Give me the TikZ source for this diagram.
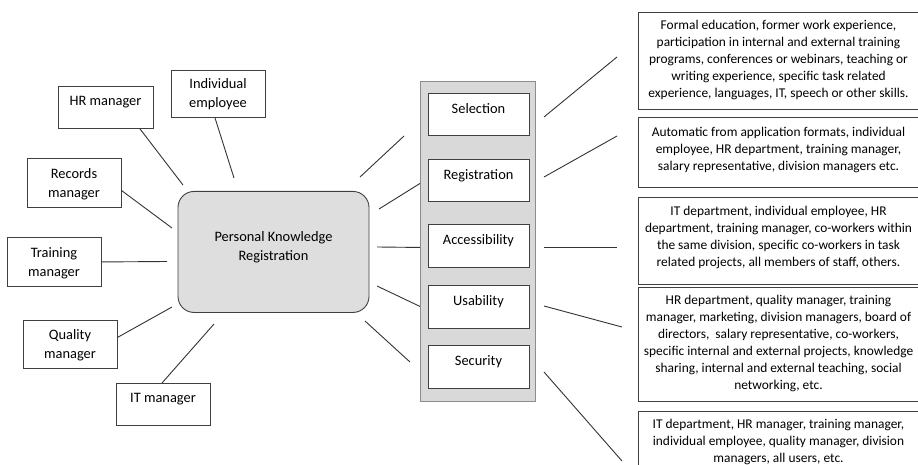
\documentclass[tikz,border=0pt]{standalone}
\usepackage{fontspec}
\setmainfont{Carlito}
\begin{document}
\begin{tikzpicture}[x=1pt, y=-1pt]

	% Styles

	\tikzset{
		box/.style={draw=black!75, line width=0.9pt, fill=white, inner xsep=0pt, inner ysep=0pt, align=center, anchor=north, font=\fontsize{14.4}{19}\selectfont},
		note/.style={box, minimum width=281pt, font=\fontsize{13.4}{17}\selectfont},
		pad/.style 2 args={text height=#1, text depth=#2},
		link/.style={black!80, line width=0.9pt}
	}

	\useasboundingbox (0,0) rectangle (918,465);
	\clip (0,0) rectangle (918,465);

	% Roles

	\node [box, minimum width=95pt, pad={19pt}{23pt}] (hr) at (105.5,86) {HR manager};
	\node [box, minimum width=94pt, pad={37pt}{10pt}] (emp) at (218,70) {Individual\\employee};
	\node [box, minimum width=94pt, pad={39pt}{10pt}] (rec) at (74,158) {Records\\manager};
	\node [box, minimum width=94pt, pad={39pt}{10pt}] (trn) at (54,237) {Training\\manager};
	\node [box, minimum width=94pt, pad={38pt}{10pt}] (qual) at (70,320) {Quality\\manager};
	\node [box, minimum width=94pt, pad={19pt}{23pt}] (it) at (163,383) {IT manager};

	\node [box, fill=black!13, rounded corners=16pt, minimum width=191pt, pad={69pt}{52pt}] (pkr) at (273.5,191) {Personal Knowledge\\Registration};

	% Column of aspects

	\node [draw=black!45, fill=black!15, line width=0.9pt, minimum width=115pt, minimum height=320pt, inner sep=0pt, anchor=north west] (col) at (420,81) {};

	\foreach \n/\t/\s in {sel/93/Selection, reg/159/Registration, acc/224/Accessibility, usa/285/Usability, sec/345/Security}
		\node [box, minimum width=101pt, pad={20pt}{22.5pt}] (\n) at (478.5,\t) {\s};

	% Notes

	\node [note, pad={85pt}{12pt}] (n1) at (778.5,12) {Formal education, former work experience,\\participation in internal and external training\\programs, conferences or webinars, teaching or\\writing experience, specific task related\\experience, languages, IT, speech or other skills.};
	\node [note, pad={53pt}{17pt}] (n2) at (778.5,117) {Automatic from application formats, individual\\employee, HR department, training manager,\\salary representative, division managers etc.};
	\node [note, pad={69pt}{18pt}] (n3) at (778.5,197) {IT department, individual employee, HR\\department, training manager, co-workers within\\the same division, specific co-workers in task\\related projects, all members of staff, others.};
	\node [note, pad={102pt}{12pt}] (n4) at (778.5,287) {HR department, quality manager, training\\manager, marketing, division managers, board of\\directors,~ salary representative, co-workers,\\specific internal and external projects, knowledge\\sharing, internal and external teaching, social\\networking, etc.};
	\node [note, pad={51pt}{20pt}] (n5) at (778.5,411) {IT department, HR manager, training manager,\\individual employee, quality manager, division\\managers, all users, etc.};

	% Free ends

	\coordinate (hr-in) at (183,185);
	\coordinate (emp-in) at (234,178);
	\coordinate (rec-in) at (172,228);
	\coordinate (trn-in) at (167,261.5);
	\coordinate (qual-in) at (172,307);
	\coordinate (it-in) at (214,324);

	\coordinate (p1) at (360,177);
	\coordinate (p2) at (379,209);
	\coordinate (p3) at (377,247);
	\coordinate (p4) at (377,286);
	\coordinate (p5) at (365,321);
	\coordinate (c1) at (404,136);
	\coordinate (c5) at (410,362);

	\coordinate (a1) at (544,117);
	\coordinate (a2) at (544,177);
	\coordinate (a3) at (544,247);
	\coordinate (a4) at (544,306);
	\coordinate (a5) at (544,372);
	\coordinate (b1) at (617,57);
	\coordinate (b2) at (617,136);
	\coordinate (b3) at (617,247);
	\coordinate (b4) at (622,327);
	\coordinate (b5) at (622,461);

	% Connectors

	\draw [link] ([xshift=34.5pt]hr.south) -- (hr-in);
	\draw [link] ([xshift=-3pt]emp.south) -- (emp-in);
	\draw [link] ([yshift=-7.5pt]rec.east) -- (rec-in);
	\draw [link] (trn.east) -- (trn-in);
	\draw [link] ([yshift=7pt]qual.east) -- (qual-in);
	\draw [link] ([xshift=-1pt]it.north) -- (it-in);

	\draw [link] (p1) -- (c1);
	\draw [link] (p2) -- ([yshift=58pt]col.west);
	\draw [link] (p3) -- ([yshift=-6pt]col.west);
	\draw [link] (p4) -- ([yshift=-65pt]col.west);
	\draw [link] (p5) -- (c5);

	\foreach \i in {1,...,5}
		\draw [link] (a\i) -- (b\i);

\end{tikzpicture}
\end{document}
